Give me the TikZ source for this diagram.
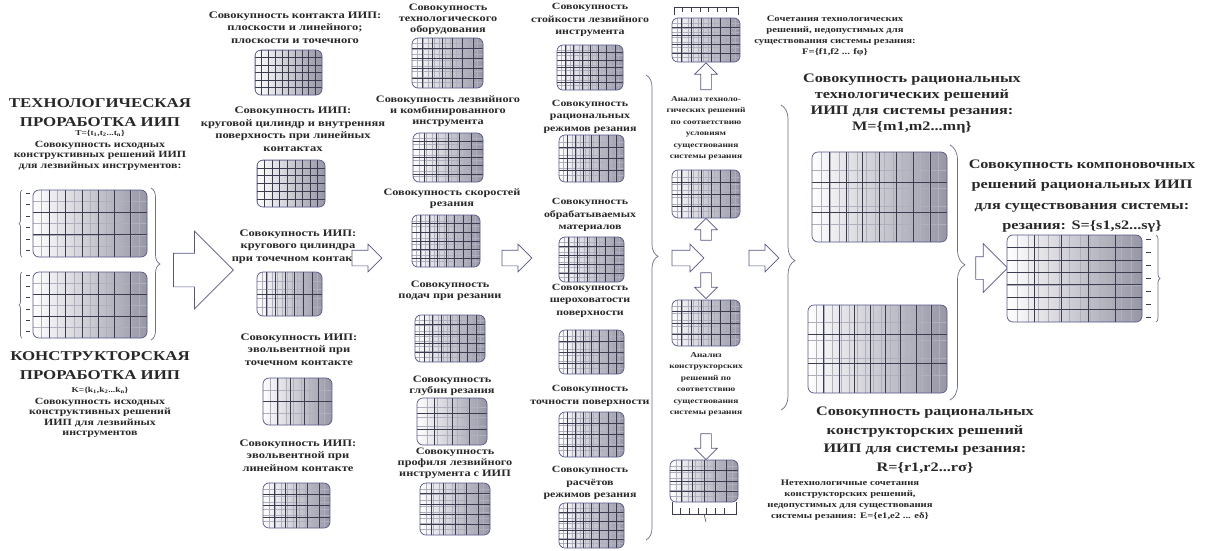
\documentclass[tikz,border=0pt]{standalone}
\usepackage{fontspec}
\newfontfamily\rf{Liberation Serif}[FakeStretch=1.25]
\usetikzlibrary{shapes.arrows,decorations.pathreplacing,calc}
\definecolor{bb}{RGB}{85,85,140}
\definecolor{gshade}{RGB}{150,150,165}
\definecolor{gl}{RGB}{60,60,80}
\definecolor{fl}{RGB}{175,175,190}
\definecolor{tx}{RGB}{40,40,40}
\definecolor{brc}{RGB}{110,110,145}
\tikzset{
  gb/.style={draw=bb, line width=0.7pt, rounded corners=6pt, left color=white, right color=gshade, inner sep=0pt, outer sep=0pt},
  grid/.style n args={4}{path picture={
    \foreach \i in {1,...,#3}{\pgfmathsetmacro\f{\i/(#3+1)}
      \draw[fl, line width=0.35pt] ($(path picture bounding box.south west)!\f!(path picture bounding box.south east)$) -- ($(path picture bounding box.north west)!\f!(path picture bounding box.north east)$);}
    \foreach \i in {1,...,#4}{\pgfmathsetmacro\f{\i/(#4+1)}
      \draw[fl, line width=0.35pt] ($(path picture bounding box.south west)!\f!(path picture bounding box.north west)$) -- ($(path picture bounding box.south east)!\f!(path picture bounding box.north east)$);}
    \foreach \i in {1,...,#1}{\pgfmathsetmacro\f{\i/(#1+1)}
      \draw[gl, line width=0.5pt] ($(path picture bounding box.south west)!\f!(path picture bounding box.south east)$) -- ($(path picture bounding box.north west)!\f!(path picture bounding box.north east)$);}
    \foreach \i in {1,...,#2}{\pgfmathsetmacro\f{\i/(#2+1)}
      \draw[gl, line width=0.5pt] ($(path picture bounding box.south west)!\f!(path picture bounding box.north west)$) -- ($(path picture bounding box.south east)!\f!(path picture bounding box.north east)$);}
  }},
  tt/.style={text=tx, align=center, inner sep=0pt},
  fT/.style={font=\rf\bfseries\fontsize{13.5}{19}\selectfont},
  fF/.style={font=\rf\bfseries\fontsize{7.5}{9}\selectfont},
  fS/.style={font=\rf\bfseries\fontsize{9.5}{10.5}\selectfont},
  fB/.style={font=\rf\bfseries\fontsize{10}{12.5}\selectfont},
  fC/.style={font=\rf\bfseries\fontsize{9.8}{11}\selectfont},
  fCC/.style={font=\rf\bfseries\fontsize{9.5}{12.5}\selectfont},
  fD/.style={font=\rf\bfseries\fontsize{7.5}{11.5}\selectfont},
  fE/.style={font=\rf\bfseries\fontsize{8.5}{11}\selectfont},
  fG/.style={font=\rf\bfseries\fontsize{13}{16}\selectfont},
  fGG/.style={font=\rf\bfseries\fontsize{13}{18.5}\selectfont},
  fH/.style={font=\rf\bfseries\fontsize{13}{20.5}\selectfont},
  harr/.style={single arrow, draw=bb, fill=white, line width=0.7pt, inner sep=0pt, outer sep=0pt},
  brc/.style={draw=brc, line width=0.7pt, decorate},
  tick/.style={draw=gl, line width=0.6pt},
}
\newcommand\gbox[6]{%
  \pgfmathsetmacro\gx{(#2+#4)/2}\pgfmathsetmacro\gy{(#3+#5)/2}%
  \pgfmathsetmacro\gw{#4-#2}\pgfmathsetmacro\gh{#5-#3}%
  \node[gb, grid=#6, minimum width=\gw pt, minimum height=\gh pt] (#1) at (\gx,\gy) {};}
\begin{document}
\begin{tikzpicture}[x=1pt,y=-1pt]
\useasboundingbox[fill=white] (0,0) rectangle (1215,550);

% ---------- column 1
\node[tt,fT] (t1) at (100,112.5) {ТЕХНОЛОГИЧЕСКАЯ\\ПРОРАБОТКА ИИП};
\node[tt,fF] (t1f) at (100,133) {T=\{t\textsubscript{1},t\textsubscript{2}...t\textsubscript{n}\}};
\node[tt,fS] (t1d) at (100,155.5) {Совокупность исходных\\конструктивных решений ИИП\\для лезвийных инструментов:};
\gbox{c1a}{33}{190}{147}{257}{{6}{2}{13}{5}}
\gbox{c1b}{33}{272}{147}{338}{{6}{2}{13}{5}}
\node[tt,fT] (t2) at (100,366) {КОНСТРУКТОРСКАЯ\\ПРОРАБОТКА ИИП};
\node[tt,fF] (t2f) at (100,390) {K=\{k\textsubscript{1},k\textsubscript{2}...k\textsubscript{n}\}};
\node[tt,fS] (t2d) at (100,418) {Совокупность исходных\\конструктивных решений\\ИИП для лезвийных\\инструментов};
\foreach \b in {c1a,c1b}{
  \draw[brc, decoration={brace, amplitude=3pt}] ([xshift=-11pt]\b.south west) -- ([xshift=-11pt]\b.north west);
  \foreach \k in {0.05,0.22,0.39,0.56,0.73,0.9}
    \draw[tick] ($(\b.north west)!\k!(\b.south west)+(-7,0)$) -- ++(4,0);
}
\draw[brc, decoration={brace, amplitude=9pt}] ([xshift=4pt,yshift=2pt]c1a.north east) -- ([xshift=4pt,yshift=-2pt]c1b.south east);

\node[harr, minimum height=60pt, inner ysep=16.5pt, single arrow head extend=22pt] (A1) at (195,270) {};

% ---------- column 2
\node[tt,fB] (t21) at (295,27.5) {Совокупность контакта ИИП:\\плоскости и линейного;\\плоскости и точечного};
\gbox{b21}{255}{50}{322}{95}{{9}{5}{0}{0}}
\node[tt,fB] (t22) at (293,129) {Совокупность ИИП:\\круговой цилиндр и внутренняя\\поверхность при линейных\\контактах};
\gbox{b22}{257}{160}{325}{207}{{8}{5}{0}{0}}
\node[tt,fB] (t23) at (298,246.5) {Совокупность ИИП:\\кругового цилиндра\\при точечном контакте};
\gbox{b23}{257}{272}{322}{316}{{6}{1}{12}{4}}
\node[tt,fB] (t24) at (299,349.5) {Совокупность ИИП:\\эвольвентной при\\точечном контакте};
\gbox{b24}{263}{378}{332}{425}{{4}{1}{8}{3}}
\node[tt,fB] (t25) at (298,455.5) {Совокупность ИИП:\\эвольвентной при\\линейном контакте};
\gbox{b25}{263}{483}{330}{528}{{5}{3}{10}{6}}

\node[harr, minimum height=30pt, inner ysep=7.5pt, single arrow head extend=6pt] (A2) at (363,258) {};

% ---------- column 3
\node[tt,fC] (t31) at (448,19) {Совокупность\\технологического\\оборудования};
\gbox{b31}{412}{38}{483}{88}{{6}{4}{12}{8}}
\node[tt,fC] (t32) at (448,111.5) {Совокупность лезвийного\\и комбинированного\\инструмента};
\gbox{b32}{413}{133}{483}{182}{{5}{5}{10}{8}}
\node[tt,fC] (t33) at (452,199) {Совокупность скоростей\\резания};
\gbox{b33}{412}{215}{480}{267}{{7}{5}{14}{8}}
\node[tt,fC] (t34) at (450,290.5) {Совокупность\\подач при резании};
\gbox{b34}{415}{315}{485}{362}{{7}{4}{14}{8}}
\node[tt,fC] (t35) at (452,385.5) {Совокупность\\глубин резания};
\gbox{b35}{417}{398}{487}{445}{{3}{2}{6}{4}}
\node[tt,fC] (t36) at (455,463) {Совокупность\\профиля лезвийного\\инструмента с ИИП};
\gbox{b36}{420}{483}{490}{535}{{5}{4}{10}{8}}

\node[harr, minimum height=30pt, inner ysep=7.5pt, single arrow head extend=6pt] (A3) at (513,258) {};

% ---------- column 4
\node[tt,fCC] (t41) at (590,20) {Совокупность\\стойкости лезвийного\\инструмента};
\gbox{b41}{557}{45}{623}{90}{{7}{5}{14}{8}}
\node[tt,fCC] (t42) at (590,116.5) {Совокупность\\рациональных\\режимов резания};
\gbox{b42}{559}{135}{624}{182}{{7}{3}{14}{6}}
\node[tt,fCC] (t43) at (590,215) {Совокупность\\обрабатываемых\\материалов};
\gbox{b43}{559}{237}{624}{282}{{6}{4}{12}{8}}
\node[tt,fCC] (t44) at (590,300.5) {Совокупность\\шероховатости\\поверхности};
\gbox{b44}{559}{330}{624}{374}{{7}{3}{14}{6}}
\node[tt,fCC] (t45) at (590,396) {Совокупность\\точности поверхности};
\gbox{b45}{559}{412}{624}{457}{{7}{3}{14}{6}}
\node[tt,fCC] (t46) at (590,483) {Совокупность\\расчётов\\режимов резания};
\gbox{b46}{559}{503}{624}{548}{{7}{4}{14}{8}}
\draw[brc, decoration={brace, amplitude=12pt, aspect=0.39}] (646,75) -- (646,540);

\node[harr, minimum height=32pt, inner ysep=7.5pt, single arrow head extend=6pt] (A4) at (684,258) {};

% ---------- column 5
\gbox{b51}{672}{18}{740}{62}{{6}{4}{12}{8}}
\draw[tick, line width=0.5pt] (b51.north west) ++(2,-3) |- ($(b51.north east)+(-2,-11)$) -- ++(0,8);
\foreach \k in {0.15,0.28,0.41,0.54,0.67,0.8}
  \draw[tick, line width=0.5pt] ($(b51.north west)!\k!(b51.north east)+(0,-11)$) -- ++(0,5);
\node[harr, rotate=90, minimum height=27pt, inner ysep=5pt, single arrow head extend=6pt] (U1) at (706,79) {};
\node[tt,fD] (t51) at (706,128.5) {Анализ техноло-\\гических решений\\по соответствию\\условиям\\существования\\системы резания};
\gbox{b52}{672}{170}{740}{218}{{6}{3}{12}{6}}
\node[harr, rotate=90, minimum height=22pt, inner ysep=5pt, single arrow head extend=6pt] (U2) at (706,232) {};
\node[harr, rotate=-90, minimum height=26pt, inner ysep=5pt, single arrow head extend=6pt] (D1) at (706,283) {};
\gbox{b53}{672}{300}{740}{346}{{6}{3}{12}{6}}
\node[tt,fD] (t52) at (706,384.5) {Анализ\\конструкторских\\решений по\\соответствию\\существования\\системы резания};
\node[harr, rotate=-90, minimum height=26pt, inner ysep=5pt, single arrow head extend=6pt] (D2) at (706,444) {};
\gbox{b54}{670}{460}{738}{502}{{5}{3}{10}{6}}
\draw[tick, line width=0.5pt] ($(b54.south west)+(2,0)$) |- ($(b54.south east)+(-2,12)$) -- ++(0,-12);
\foreach \k in {0.15,0.28,0.41,0.54,0.67,0.8}
  \draw[tick, line width=0.5pt] ($(b54.south west)!\k!(b54.south east)+(0,6)$) -- ++(0,6);
\coordinate (e54) at (706,522);
\draw[tick, line width=0.5pt] ($(b54.south)+(0,12)$) -- (e54);

\node[tt,fE] (tF) at (835,36.5) {Сочетания технологических\\решений, недопустимых для\\существования системы резания:\\F=\{f1,f2 ... fφ\}};
\node[tt,fE] (tE) at (850,500.5) {Нетехнологичные сочетания\\конструкторских решений,\\недопустимых для существования\\системы резания: E=\{e1,e2 ... eδ\}};

\node[harr, minimum height=30pt, inner ysep=7.5pt, single arrow head extend=6pt] (A5) at (760,258) {};

% ---------- big boxes
\draw[brc, decoration={brace, amplitude=14pt, aspect=0.51}] (781,105) -- (781,410);
\node[tt,fG] (tM) at (912,104) {Совокупность рациональных\\технологических решений\\ИИП для системы резания:\\M=\{m1,m2...mη\}};
\gbox{bM}{812}{152}{947}{242}{{7}{2}{14}{4}}
\gbox{bR}{808}{305}{947}{393}{{8}{2}{16}{4}}
\node[tt,fGG] (tR) at (925,440) {Совокупность рациональных\\конструкторских решений\\ИИП для системы резания:\\R=\{r1,r2...rσ\}};
\draw[brc, decoration={brace, amplitude=15pt, aspect=0.47}] (950,145) -- (950,400);

\node[harr, minimum height=32pt, inner ysep=11pt, single arrow head extend=13pt] (A6) at (986,268) {};

\node[tt,fH] (tS) at (1082,196) {Совокупность компоновочных\\решений рациональных ИИП\\для существования системы:\\резания: S=\{s1,s2...sγ\}};
\gbox{bS}{1007}{235}{1142}{322}{{4}{6}{12}{6}}
\foreach \k in {0.05,0.2,0.35,0.5,0.65,0.8,0.95}
  \draw[tick] ($(bS.north east)!\k!(bS.south east)+(4,0)$) -- ++(5,0);
\draw[brc, decoration={brace, amplitude=4pt}] ([xshift=14pt]bS.north east) -- ([xshift=14pt]bS.south east);
\end{tikzpicture}
\end{document}
